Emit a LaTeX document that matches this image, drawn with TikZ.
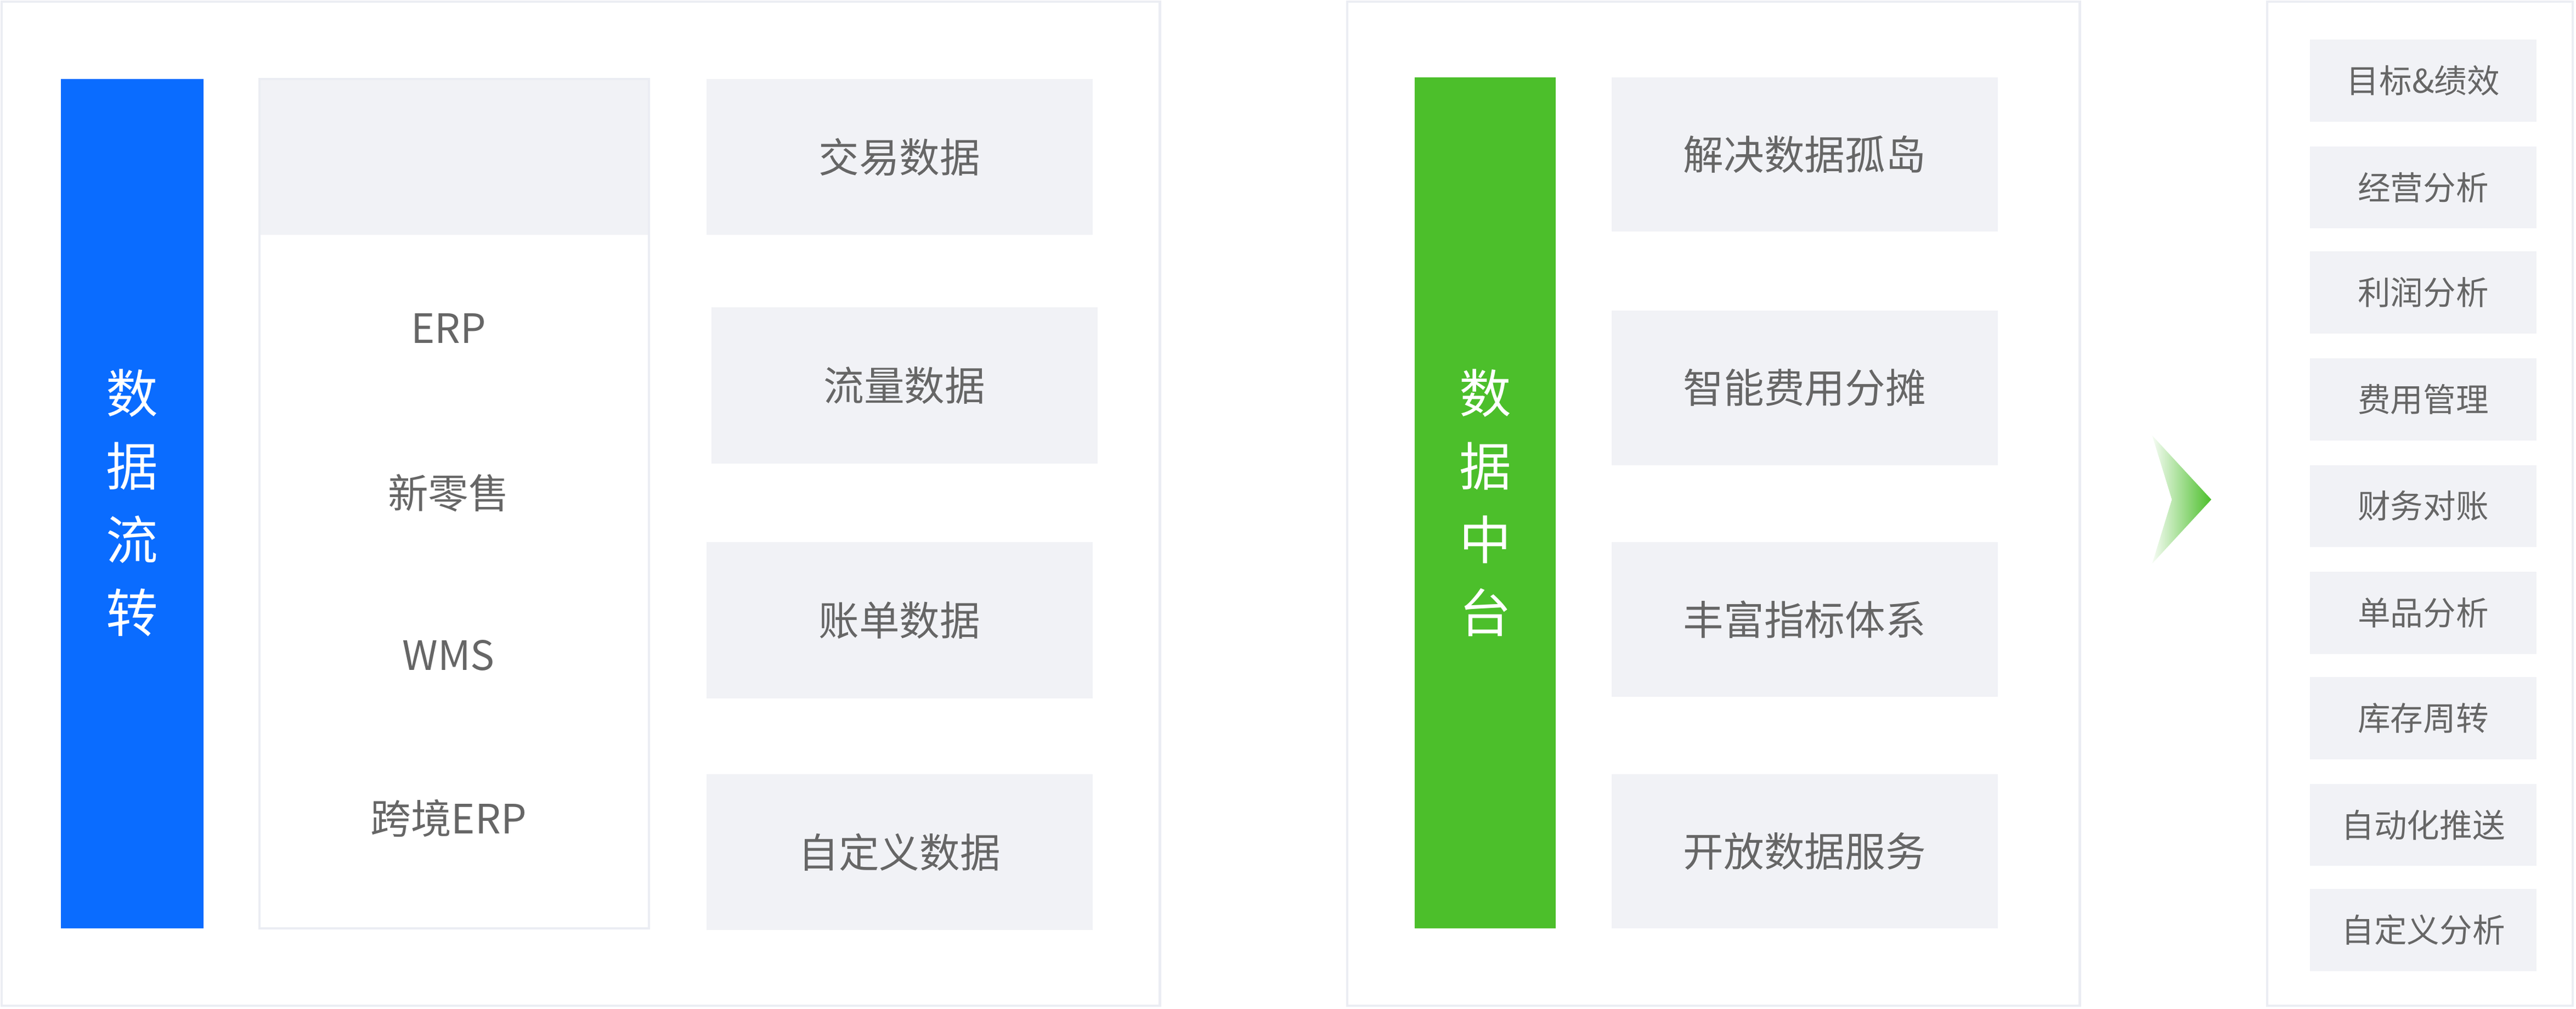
\documentclass[tikz,border=0pt]{standalone}
\usepackage{fontspec}
\setmainfont{Noto Sans CJK SC}
\definecolor{barblue}{HTML}{0A6CFF}
\definecolor{bargreen}{HTML}{4CBF2B}
\definecolor{cellgray}{HTML}{F1F2F6}
\definecolor{linegray}{HTML}{EBEDF3}
\definecolor{txtgray}{HTML}{666666}
\tikzset{
  panel/.style={draw=linegray, line width=1.2pt, fill=white},
  cell/.style={fill=cellgray, text=txtgray, font=\fontsize{21}{25}\selectfont},
  smallcell/.style={fill=cellgray, text=txtgray, font=\fontsize{17}{21}\selectfont},
  bartext/.style={text=white, font=\fontsize{27}{38}\selectfont, align=center},
  srctext/.style={text=txtgray, font=\fontsize{21}{25}\selectfont}
}
\begin{document}
\begin{tikzpicture}[x=0.03cm, y=-0.03cm]
  \useasboundingbox (0,0) rectangle (1568,614);

  % panels
  \draw[panel] (1,1) rectangle (706,612);
  \draw[panel] (820,1) rectangle (1266,612);
  \draw[panel] (1380,1) rectangle (1566,612);

  % left panel
  \fill[barblue] (37,48) rectangle (124,565);
  \node[bartext] (flow) at (80.5,306) {数\\据\\流\\转};
  \draw[panel] (158,48) rectangle (395,565);
  \fill[cellgray] (158.6,48.6) rectangle (394.4,143);
  \node[srctext] (erp) at (273,200) {ERP};
  \node[srctext] (retail) at (273,300) {新零售};
  \node[srctext] (wms) at (273,399) {WMS};
  \node[srctext] (xerp) at (273,498) {跨境ERP};

  \fill[cellgray] (430,48) rectangle (665,143);
  \node[cell] (trade) at (547.5,95.5) {交易数据};
  \fill[cellgray] (433,187) rectangle (668,282);
  \node[cell] (traffic) at (550.5,234.5) {流量数据};
  \fill[cellgray] (430,330) rectangle (665,425);
  \node[cell] (bill) at (547.5,377.5) {账单数据};
  \fill[cellgray] (430,471) rectangle (665,566);
  \node[cell] (custom) at (547.5,518.5) {自定义数据};

  % middle panel
  \fill[bargreen] (861,47) rectangle (947,565);
  \node[bartext] (hub) at (904,306) {数\\据\\中\\台};
  \foreach \yy/\name/\txt in {47/island/解决数据孤岛, 189/cost/智能费用分摊, 330/metric/丰富指标体系, 471/service/开放数据服务} {
    \fill[cellgray] (981,\yy) rectangle (1216,\yy+94);
    \node[cell] (\name) at (1098.5,\yy+47) {\txt};
  }

  % arrow
  \shade[left color=bargreen!5, right color=bargreen] (1310,265) -- (1346,304) -- (1310,343) -- (1322,304) -- cycle;

  % right panel
  \foreach \yy/\name/\txt in {24/goal/目标\&绩效, 89/oper/经营分析, 153/profit/利润分析, 218/fee/费用管理, 283/fin/财务对账, 348/sku/单品分析, 412/stock/库存周转, 477/push/自动化推送, 541/self/自定义分析} {
    \fill[cellgray] (1406,\yy) rectangle (1544,\yy+50);
    \node[smallcell] (\name) at (1475,\yy+25) {\txt};
  }
\end{tikzpicture}
\end{document}
